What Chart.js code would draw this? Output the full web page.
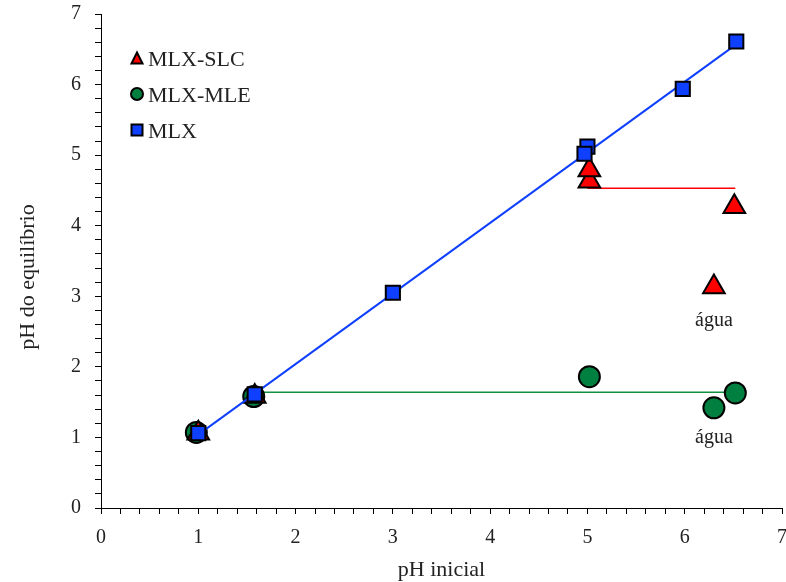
<!DOCTYPE html>
<html>
<head>
<meta charset="utf-8">
<title>pH inicial vs pH do equilíbrio</title>
<script src="https://cdn.jsdelivr.net/npm/chart.js@4.4.1/dist/chart.umd.min.js"></script>
<style>
  html, body { margin: 0; padding: 0; background: #fff; }
  canvas { display: block; }
</style>
</head>
<body>
<canvas id="phChart" width="786" height="582"></canvas>
<script>
// measured points (pH inicial, pH do equilíbrio)
const slcX = [1.0, 1.58, 5.02, 5.02, 6.3, 6.51];
const slcY = [1.06, 1.58, 4.63, 4.79, 3.13, 4.27];
const mleX = [0.98, 1.57, 5.02, 6.3, 6.52];
const mleY = [1.07, 1.58, 1.86, 1.42, 1.63];
const mlxX = [1.0, 1.58, 3.0, 5.0, 4.97, 5.98, 6.53];
const mlxY = [1.06, 1.61, 3.05, 5.12, 5.02, 5.94, 6.61];

// guide lines
const mlxFitX = [1.0, 6.54];
const mlxFitY = [1.04, 6.58];
const slcLevelX = [5.0, 6.52];
const slcLevelY = [4.53, 4.53];
const mleLevelX = [1.58, 6.52];
const mleLevelY = [1.64, 1.64];

// text
const legendLabels = ['MLX-SLC', 'MLX-MLE', 'MLX'];
const waterText = 'água';
const waterX = [6.3, 6.3];
const waterY = [2.66, 1.0];
const xTitle = 'pH inicial';
const yTitle = 'pH do equilíbrio';

const RED = '#ff0000';
const GREEN = '#008040';
const BLUE = '#1040ff';
const SERIF = '"Liberation Serif", "Times New Roman", serif';

function pts(xs, ys) {
    return xs.map((v, i) => ({ x: v, y: ys[i] }));
}

function isWhole(v) {
    return Math.abs(v - Math.round(v)) < 1e-6;
}

function markerPath(ctx, style, cx, cy, size) {
    ctx.beginPath();
    if (style === 'triangle') {
        ctx.moveTo(cx, cy - size / 2);
        ctx.lineTo(cx + size / 2, cy + size / 2);
        ctx.lineTo(cx - size / 2, cy + size / 2);
        ctx.closePath();
    } else if (style === 'circle') {
        ctx.arc(cx, cy, size / 2, 0, Math.PI * 2);
    } else {
        ctx.rect(cx - size / 2, cy - size / 2, size, size);
    }
}

const overlayText = {
    id: 'overlayText',
    afterDraw(chart) {
        const { ctx, chartArea, scales } = chart;
        ctx.save();
        ctx.fillStyle = '#222';

        // axis titles
        ctx.font = '22px ' + SERIF;
        ctx.textAlign = 'center';
        ctx.textBaseline = 'alphabetic';
        ctx.fillText(xTitle, (chartArea.left + chartArea.right) / 2, chartArea.bottom + 68);
        ctx.save();
        ctx.translate(34, (chartArea.top + chartArea.bottom) / 2 + 16);
        ctx.rotate(-Math.PI / 2);
        ctx.fillText(yTitle, 0, 0);
        ctx.restore();

        // "água" notes under the water points
        ctx.font = '20px ' + SERIF;
        ctx.textBaseline = 'middle';
        waterX.forEach((v, i) => {
            ctx.fillText(waterText, scales.x.getPixelForValue(v), scales.y.getPixelForValue(waterY[i]));
        });

        // legend in the upper left corner
        const styles = [
            { shape: 'triangle', color: RED, size: 11 },
            { shape: 'circle', color: GREEN, size: 12 },
            { shape: 'rect', color: BLUE, size: 11 }
        ];
        const rows = [58, 94, 130];
        const lx = chartArea.left + 36;
        ctx.font = '22px ' + SERIF;
        ctx.textAlign = 'left';
        ctx.textBaseline = 'alphabetic';
        legendLabels.forEach((label, i) => {
            const s = styles[i];
            markerPath(ctx, s.shape, lx, rows[i], s.size);
            ctx.fillStyle = s.color;
            ctx.fill();
            ctx.lineWidth = 2;
            ctx.strokeStyle = '#000';
            ctx.stroke();
            ctx.fillStyle = '#222';
            ctx.fillText(label, lx + 11, rows[i] + 8);
        });
        ctx.restore();
    }
};

const tickFont = { family: SERIF, size: 20 };

new Chart(document.getElementById('phChart'), {
    type: 'scatter',
    data: {
        datasets: [{
            label: 'MLX',
            data: pts(mlxX, mlxY),
            pointStyle: 'rect',
            pointRadius: 10,
            backgroundColor: BLUE,
            borderColor: '#000',
            borderWidth: 2,
            order: 1
        }, {
            label: 'MLX fit',
            data: pts(mlxFitX, mlxFitY),
            showLine: true,
            pointRadius: 0,
            borderColor: BLUE,
            borderWidth: 2,
            order: 2
        }, {
            label: 'MLX-SLC',
            data: pts(slcX, slcY),
            pointStyle: 'triangle',
            pointRadius: 12.5,
            backgroundColor: RED,
            borderColor: '#000',
            borderWidth: 2,
            order: 3
        }, {
            label: 'MLX-MLE',
            data: pts(mleX, mleY),
            pointStyle: 'circle',
            pointRadius: 10.5,
            backgroundColor: GREEN,
            borderColor: '#000',
            borderWidth: 2,
            order: 4
        }, {
            label: 'MLX-SLC level',
            data: pts(slcLevelX, slcLevelY),
            showLine: true,
            pointRadius: 0,
            borderColor: RED,
            borderWidth: 1.5,
            order: 5
        }, {
            label: 'MLX-MLE level',
            data: pts(mleLevelX, mleLevelY),
            showLine: true,
            pointRadius: 0,
            borderColor: '#109040',
            borderWidth: 1.5,
            order: 5
        }]
    },
    options: {
        responsive: false,
        animation: false,
        layout: {
            autoPadding: false,
            padding: { top: 14, right: 4, left: 0, bottom: 0 }
        },
        plugins: {
            legend: { display: false },
            tooltip: { enabled: false }
        },
        scales: {
            x: {
                type: 'linear',
                min: 0,
                max: 7,
                ticks: {
                    stepSize: 0.2,
                    maxTicksLimit: 100,
                    autoSkip: false,
                    maxRotation: 0,
                    padding: 12,
                    color: '#222',
                    font: tickFont,
                    callback: v => isWhole(v) ? Math.round(v) : ''
                },
                grid: { drawOnChartArea: false, tickLength: 6, color: '#000' },
                border: { color: '#000', width: 1 },
                afterFit: s => {
                    s.height = 74;
                    s.paddingLeft = 0;
                    s.paddingRight = 0;
                }
            },
            y: {
                type: 'linear',
                min: 0,
                max: 7,
                ticks: {
                    stepSize: 0.2,
                    maxTicksLimit: 100,
                    autoSkip: false,
                    padding: 14,
                    color: '#222',
                    font: tickFont,
                    callback: v => isWhole(v) ? Math.round(v) : ''
                },
                grid: { drawOnChartArea: false, tickLength: 6, color: '#000' },
                border: { color: '#000', width: 1 },
                afterFit: s => {
                    s.width = 101;
                    s.paddingTop = 0;
                    s.paddingBottom = 0;
                }
            }
        }
    },
    plugins: [overlayText]
});
</script>
</body>
</html>
